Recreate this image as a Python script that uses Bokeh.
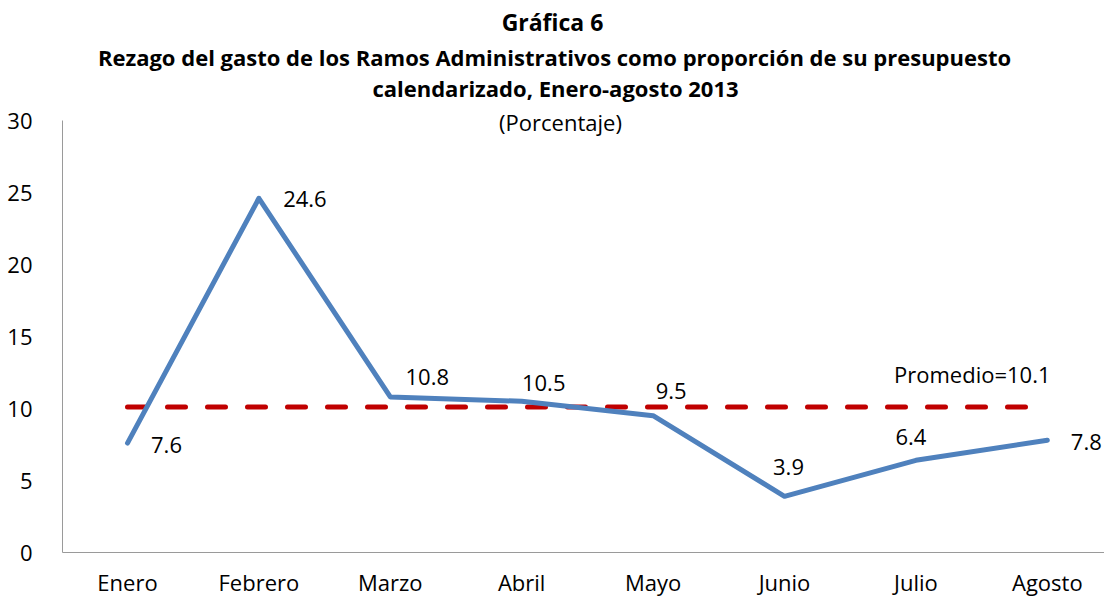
from bokeh.plotting import figure
from bokeh.models import ColumnDataSource, Label, FixedTicker
from bokeh.core.properties import value
from bokeh.embed import file_html
from bokeh.resources import INLINE

# ---- data ----
months = ["Enero", "Febrero", "Marzo", "Abril", "Mayo", "Junio", "Julio", "Agosto"]
rezago = [7.6, 24.6, 10.8, 10.5, 9.5, 3.9, 6.4, 7.8]
promedio = [10.1, 10.1, 10.1, 10.1, 10.1, 10.1, 10.1, 10.1]
y_ticks = [0, 5, 10, 15, 20, 25, 30]
title_main = "Gráfica 6"
title_sub1 = "Rezago del gasto de los Ramos Administrativos como proporción de su presupuesto"
title_sub2 = "calendarizado, Enero-agosto 2013"
title_unit = "(Porcentaje)"

# label offsets (screen px, + = right / down)
label_dx = [39, 46, 37, 22, 18, 4, -5, 39]
label_dy = [2, 1, -20, -18, -25, -29, -23, 2]

# ---- layout ----
FONT = "Open Sans"
W, H = 1104, 600
FRAME_LEFT = 62
FRAME_BOTTOM = 552
FIRST_X = 127
PX_X = 131.4
PX_Y = (FRAME_BOTTOM - 120) / 30.0

x0 = -(FIRST_X - FRAME_LEFT) / PX_X
x1 = x0 + (W - FRAME_LEFT) / PX_X
y1 = FRAME_BOTTOM / PX_Y


def px2x(px):
    return x0 + (px - FRAME_LEFT) / PX_X


def py2y(py):
    return (FRAME_BOTTOM - py) / PX_Y


xs = list(range(len(months)))

p = figure(width=W, height=H, output_backend="svg", toolbar_location=None,
           x_range=(x0, x1), y_range=(0, y1),
           min_border_left=FRAME_LEFT, min_border_right=0,
           min_border_top=0, min_border_bottom=H - FRAME_BOTTOM)
p.outline_line_color = None
p.xgrid.visible = False
p.ygrid.visible = False
p.background_fill_color = "white"
p.border_fill_color = "white"

AXIS_COLOR = "#9a9a9a"
for ax in (p.xaxis[0], p.yaxis[0]):
    ax.axis_line_color = AXIS_COLOR
    ax.axis_line_width = 1
    ax.major_tick_line_color = None
    ax.minor_tick_line_color = None
    ax.major_tick_out = 0
    ax.major_tick_in = 0
    ax.minor_tick_out = 0
    ax.minor_tick_in = 0
    ax.major_label_text_font = FONT
    ax.major_label_text_font_size = "22px"
    ax.major_label_text_color = "black"

p.yaxis.ticker = FixedTicker(ticks=y_ticks)
p.yaxis.bounds = (0, 30)
p.yaxis.major_label_standoff = 30

p.xaxis.ticker = FixedTicker(ticks=xs)
p.xaxis.major_label_overrides = {i: m for i, m in enumerate(months)}
p.xaxis.major_label_standoff = 14

src = ColumnDataSource(dict(x=xs, y=rezago, avg=promedio,
                            lab=[f"{v:.1f}" for v in rezago],
                            dx=label_dx, dy=label_dy))

p.line("x", "avg", source=src, line_color="#c00000", line_width=5,
       line_dash="18 22", line_cap="round")
p.line("x", "y", source=src, line_color="#4f81bd", line_width=5,
       line_join="round", line_cap="round")

p.text("x", "y", text="lab", source=src, x_offset="dx", y_offset="dy",
       text_align="center", text_baseline="middle",
       text_font=value(FONT), text_font_size=value("22px"), text_color="black")

avg_src = ColumnDataSource(dict(x=[xs[-1]], y=[promedio[-1]],
                                t=[f"Promedio={promedio[-1]}"]))
p.text("x", "y", text="t", source=avg_src, x_offset=-75, y_offset=-33,
       text_align="center", text_baseline="middle",
       text_font=value(FONT), text_font_size=value("22px"), text_color="black")

# titles
for txt, cx, py, size, style in [(title_main, 552, 21, "23px", "bold"),
                                 (title_sub1, 554, 56, "22px", "bold"),
                                 (title_sub2, 555, 87, "22px", "bold"),
                                 (title_unit, 560, 121, "22px", "normal")]:
    p.add_layout(Label(x=px2x(cx), y=py2y(py), text=txt, text_align="center",
                       text_baseline="middle", text_font=FONT,
                       text_font_size=size, text_font_style=style,
                       text_color="black"))

open("out.html", "w").write(file_html(p, INLINE))
